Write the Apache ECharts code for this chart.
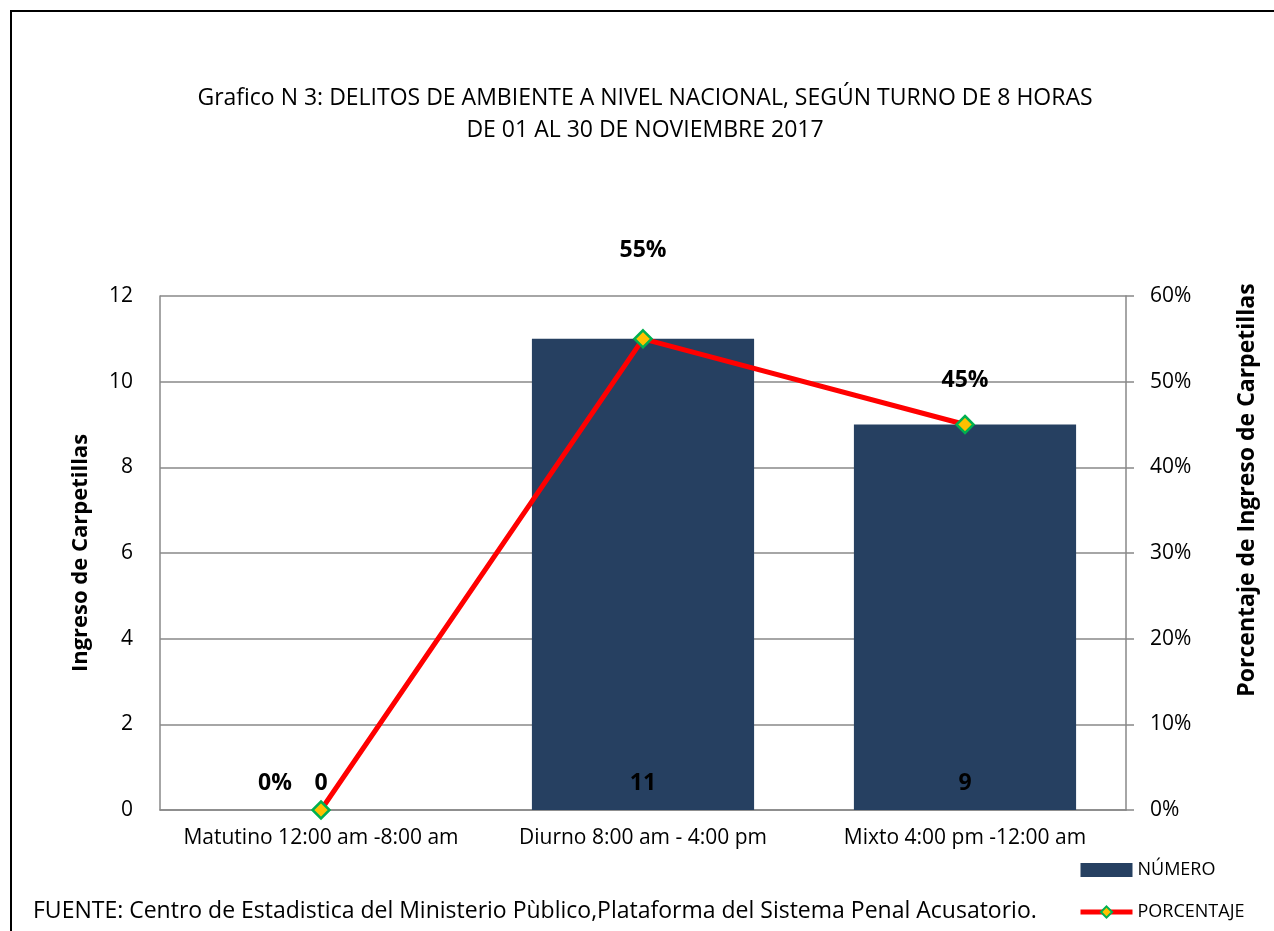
<!DOCTYPE html>
<html>
<head>
<meta charset="utf-8">
<script src="https://cdn.jsdelivr.net/npm/echarts@6/dist/echarts.min.js"></script>
<style>html,body{margin:0;padding:0;background:#fff;}#c{width:1274px;height:931px;}</style>
</head>
<body>
<div id="c"></div>
<script>
var categories = ['Matutino 12:00 am -8:00 am', 'Diurno 8:00 am - 4:00 pm', 'Mixto 4:00 pm -12:00 am'];
var numero = [0, 11, 9];
var porcentaje = [0, 55, 45];
var leftTicks = [0, 2, 4, 6, 8, 10, 12];
var rightTicks = [0, 10, 20, 30, 40, 50, 60];

var FONT = 'Open Sans';
var pctLabelOffsets = [[-46, 0], [0, -62], [0, -18]];

var chart = echarts.init(document.getElementById('c'), null, {renderer: 'canvas'});
chart.setOption({
  backgroundColor: '#ffffff',
  animation: false,
  textStyle: {fontFamily: FONT},
  title: {
    text: 'Grafico N 3: DELITOS DE AMBIENTE A NIVEL NACIONAL, SEGÚN TURNO DE 8 HORAS\nDE 01 AL 30 DE NOVIEMBRE 2017',
    left: 640, top: 77, textAlign: 'center',
    textStyle: {fontFamily: FONT, fontSize: 23, fontWeight: 'normal', color: '#000', lineHeight: 32}
  },
  graphic: [
    {type: 'rect', shape: {x: 11, y: 11, width: 1300, height: 1000}, style: {fill: 'none', stroke: '#000', lineWidth: 2}, silent: true},
    {type: 'text', left: 33, top: 900, style: {text: 'FUENTE: Centro de Estadistica del Ministerio Pùblico,Plataforma del Sistema Penal Acusatorio.', fontFamily: FONT, fontSize: 23, fill: '#000'}},
    {type: 'text', x: 1247, y: 490, rotation: Math.PI / 2,
      style: {text: 'Porcentaje de Ingreso de Carpetillas', fontFamily: FONT, fontSize: 23, fontWeight: 'bold', fill: '#000', align: 'center', verticalAlign: 'middle'}}
  ],
  legend: {
    orient: 'vertical', left: 1073, top: 856, itemGap: 24,
    itemWidth: 52, itemHeight: 14,
    textStyle: {fontFamily: FONT, fontSize: 18, color: '#000'},
    data: [
      {name: 'NÚMERO', icon: 'rect'},
      {name: 'PORCENTAJE', lineStyle: {width: 5, color: '#ff0000'}}
    ]
  },
  grid: {left: 160, right: 148, top: 296, bottom: 121},
  xAxis: {
    type: 'category', data: categories,
    axisLine: {lineStyle: {color: '#888', width: 1.5}},
    axisTick: {show: false},
    axisLabel: {color: '#000', fontSize: 21, margin: 18, fontFamily: FONT, interval: 0}
  },
  yAxis: [
    {
      type: 'value', min: leftTicks[0], max: leftTicks[leftTicks.length - 1], interval: 2,
      name: 'Ingreso de Carpetillas', nameLocation: 'middle', nameGap: 68, nameRotate: 90,
      nameTextStyle: {fontFamily: FONT, fontSize: 22, fontWeight: 'bold', color: '#000'},
      axisLine: {show: true, lineStyle: {color: '#888', width: 1.5}},
      axisTick: {show: false},
      axisLabel: {color: '#000', fontSize: 21, margin: 27, fontFamily: FONT},
      splitLine: {show: true, lineStyle: {color: '#888', width: 1.5}}
    },
    {
      type: 'value', min: rightTicks[0], max: rightTicks[rightTicks.length - 1], interval: 10, position: 'right',
      axisLine: {show: true, lineStyle: {color: '#888', width: 1.5}},
      axisTick: {show: true, length: 8, lineStyle: {color: '#888', width: 1.5}},
      axisLabel: {color: '#000', fontSize: 21, margin: 24, fontFamily: FONT, formatter: '{value}%'},
      splitLine: {show: false}
    }
  ],
  series: [
    {
      name: 'NÚMERO', type: 'bar', data: numero, barWidth: '69%', yAxisIndex: 0,
      itemStyle: {color: '#264061'},
      label: {show: true, position: 'insideBottom', distance: 15, color: '#000', fontSize: 23, fontWeight: 'bold', fontFamily: FONT}
    },
    {
      name: 'PORCENTAJE', type: 'line', yAxisIndex: 1,
      data: porcentaje.map(function (v, i) {
        return {value: v, label: {offset: pctLabelOffsets[i]}};
      }),
      symbol: 'diamond', symbolSize: 17,
      lineStyle: {color: '#ff0000', width: 5},
      itemStyle: {color: '#ffc000', borderColor: '#00b050', borderWidth: 2.5},
      label: {show: true, position: 'top', color: '#000', fontSize: 23, fontWeight: 'bold', fontFamily: FONT, formatter: '{c}%'},
      z: 5
    }
  ]
});
</script>
</body>
</html>
